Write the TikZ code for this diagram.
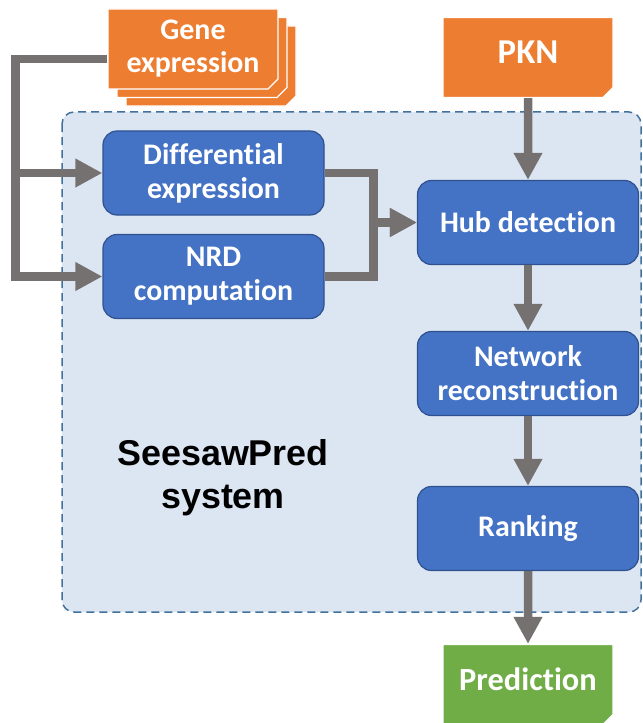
\documentclass[tikz,border=0pt]{standalone}
\usepackage{fontspec}
\setmainfont{Carlito}[Ligatures=NoCommon]
\newfontfamily\arialfont{Liberation Sans}
\usetikzlibrary{shapes.misc}
\usetikzlibrary{arrows.meta}
\usetikzlibrary{shadows}
\definecolor{pfeilgrau}{RGB}{118,113,113}
\definecolor{kastenblau}{RGB}{68,114,196}
\definecolor{randblau}{RGB}{47,82,143}
\definecolor{hellblau}{RGB}{220,230,243}
\definecolor{strichblau}{RGB}{65,113,156}
\definecolor{dokorange}{RGB}{237,125,49}
\definecolor{dokgruen}{RGB}{112,173,71}

\begin{document}
\begin{tikzpicture}[x=1bp, y=-1bp,
    schritt/.style={draw=randblau, line width=1.2bp, fill=kastenblau, rounded corners=14bp,
        minimum width=221bp, minimum height=84bp, text=white, align=center,
        font=\fontsize{30}{34}\selectfont\bfseries},
    dokument/.style={chamfered rectangle, chamfered rectangle corners=south east,
        chamfered rectangle xsep=5bp, chamfered rectangle ysep=5bp,
        draw=white, line width=1.2bp, minimum width=170bp, minimum height=80bp,
        text=white, align=center, inner sep=0pt},
    pfeil/.style={draw=pfeilgrau, line width=8.5bp, -{Triangle[length=27bp, width=27bp]}}]

    \useasboundingbox (0,0) rectangle (643,723);

    % system frame
    \path[fill=hellblau, draw=strichblau, line width=1.5bp, dash pattern=on 8bp off 5bp,
        rounded corners=12bp] (62,112) rectangle (641,612);

    % inputs and output
    \node[dokument, fill=dokorange,
        copy shadow={shadow xshift=18bp, shadow yshift=-17bp},
        copy shadow={shadow xshift=9bp, shadow yshift=-8.5bp},
        font=\fontsize{30}{35}\selectfont\bfseries] (gene) at (193,49) {\raisebox{8bp}{\begin{tabular}{@{}c@{}}Gene\\[-2bp]expression\end{tabular}}};
    \node[dokument, fill=dokorange, font=\fontsize{35}{40}\selectfont\bfseries] (pkn) at (528,57.5) {\raisebox{10bp}{PKN}};
    \node[dokument, fill=dokgruen, font=\fontsize{32.5}{38}\selectfont\bfseries] (pred) at (528,684.5) {\raisebox{10bp}{Prediction}};

    % steps
    \node[schritt] (diff) at (213.5,173) {Differential\\expression};
    \node[schritt] (nrd) at (213.5,276.5) {NRD\\computation};
    \node[schritt] (hub) at (528,222.5) {Hub detection};
    \node[schritt] (netz) at (528,373.5) {Network\\reconstruction};
    \node[schritt] (rang) at (528,528.5) {Ranking};

    \node[font=\arialfont\fontsize{36}{43}\selectfont\bfseries, align=center] (seesaw) at (223,478) {SeesawPred\\system};

    % connectors
    \draw[pfeil] ([yshift=-10bp]gene.west) -- ++(-92,0) |- (diff.west);
    \draw[pfeil] ([yshift=-10bp]gene.west) -- ++(-92,0) |- (nrd.west);
    \draw[pfeil] (diff.east) -- ++(49,0) |- (hub.west);
    \draw[pfeil] (nrd.east) -- ++(49,0) |- (hub.west);
    \draw[pfeil] (pkn) -- (hub);
    \draw[pfeil] (hub) -- (netz);
    \draw[pfeil] (netz) -- (rang);
    \draw[pfeil] (rang) -- (pred);

\end{tikzpicture}
\end{document}
